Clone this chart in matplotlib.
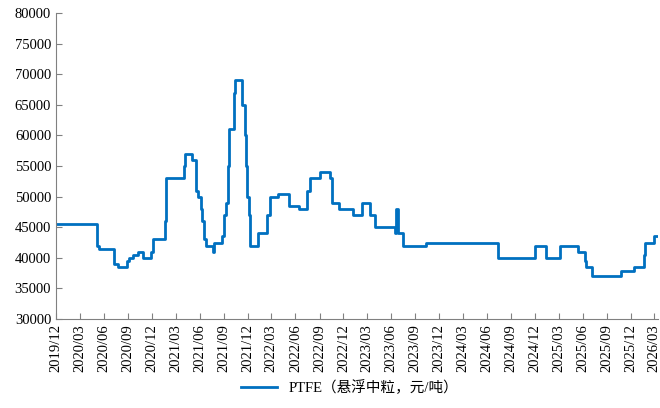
import matplotlib.pyplot as plt
import matplotlib.dates as mdates
import pandas as pd

plt.rcParams['font.family'] = ['Liberation Serif', 'Noto Sans CJK SC']

# 价格变动点（日期, 元/吨）
dates = ['2019-12-01', '2020-05-04', '2020-05-11', '2020-07-08', '2020-07-26',
         '2020-08-26', '2020-09-04', '2020-09-19', '2020-10-08', '2020-10-26',
         '2020-11-26', '2020-12-04', '2021-01-19', '2021-01-23', '2021-04-01',
         '2021-04-04', '2021-05-04', '2021-05-19', '2021-05-26', '2021-06-04',
         '2021-06-11', '2021-06-19', '2021-06-26', '2021-07-23', '2021-07-26',
         '2021-08-23', '2021-09-01', '2021-09-08', '2021-09-15', '2021-09-19',
         '2021-10-08', '2021-10-11', '2021-10-15', '2021-11-11', '2021-11-19',
         '2021-11-25', '2021-11-29', '2021-12-04', '2021-12-08', '2021-12-11',
         '2022-01-11', '2022-02-11', '2022-02-23', '2022-03-26', '2022-05-08',
         '2022-06-15', '2022-07-15', '2022-07-26', '2022-09-01', '2022-10-11',
         '2022-10-19', '2022-11-15', '2023-01-08', '2023-02-08', '2023-03-11',
         '2023-04-01', '2023-06-15', '2023-06-19', '2023-06-28', '2023-07-15',
         '2023-10-11', '2024-07-11', '2024-12-01', '2025-01-11', '2025-03-08',
         '2025-05-15', '2025-06-08', '2025-06-15', '2025-07-08', '2025-10-23',
         '2025-12-15', '2026-01-19', '2026-01-23', '2026-02-26', '2026-03-15']
prices = [45500, 42000, 41500, 39000, 38500,
          39500, 40000, 40500, 41000, 40000,
          41000, 43000, 46000, 53000, 55000,
          57000, 56000, 51000, 50000, 48000,
          46000, 43000, 42000, 41000, 42500,
          43500, 47000, 49000, 55000, 61000,
          66500, 67000, 69000, 65000, 60000,
          55000, 50000, 47000, 45000, 42000,
          44000, 47000, 50000, 50500, 48500,
          48000, 51000, 53000, 54000, 53000,
          49000, 48000, 47000, 49000, 47000,
          45000, 44000, 48000, 44000, 42000,
          42500, 40000, 42000, 40000, 42000,
          41000, 39500, 38500, 37000, 37800,
          38500, 40500, 42500, 43500, 43500]

x = pd.to_datetime(dates)

fig = plt.figure(figsize=(6.6, 4.08), dpi=100)
ax = fig.add_axes([0.085, 0.218, 0.912, 0.75])
ax.plot(x, prices, drawstyle='steps-post', color='#0070C0', lw=2,
        label='PTFE（悬浮中粒，元/吨）')

ax.set_ylim(30000, 80000)
ax.set_yticks(range(30000, 80001, 5000))
ax.set_xlim(pd.Timestamp('2019-12-01'), pd.Timestamp('2026-03-15'))
ax.xaxis.set_major_locator(mdates.MonthLocator(bymonth=[3, 6, 9, 12]))
ax.xaxis.set_major_formatter(mdates.DateFormatter('%Y/%m'))
for lab in ax.get_xticklabels():
    lab.set_rotation(90)

ax.spines['top'].set_visible(False)
ax.spines['right'].set_visible(False)
ax.spines['left'].set_color('#808080')
ax.spines['bottom'].set_color('#808080')
ax.tick_params(direction='in', length=4, color='#808080', labelsize=10.5)

fig.legend(loc='lower center', bbox_to_anchor=(0.53, 0.0), frameon=False,
           fontsize=10.5, handlelength=2.5)

fig.savefig('out.png')
